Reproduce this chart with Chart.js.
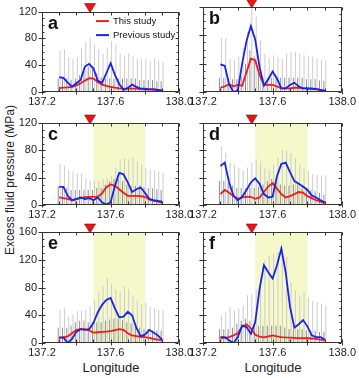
<!DOCTYPE html>
<html><head><meta charset="utf-8">
<script src="https://cdn.jsdelivr.net/npm/chart.js@4/dist/chart.umd.min.js"></script>
<style>
html,body{margin:0;padding:0;background:#fff;}
#wrap{position:relative;width:359px;height:378px;overflow:hidden;font-family:"Liberation Sans",Arial,sans-serif;}
canvas{position:absolute;}
.ytitle{position:absolute;left:10px;top:180px;transform:translate(-50%,-50%) rotate(-90deg);white-space:nowrap;font-size:12px;color:#222;}
.xtitle{position:absolute;top:367px;transform:translate(-50%,-50%);font-size:13px;color:#222;white-space:nowrap;}
</style></head><body>
<div id="wrap">
<div class="ytitle">Excess fluid pressure (MPa)</div>
<div class="xtitle" style="left:111px">Longitude</div>
<div class="xtitle" style="left:273px">Longitude</div>
</div>
<script>
// ---- data ----
const lon = [137.300,137.325,137.350,137.375,137.400,137.425,137.450,137.475,137.500,137.525,137.550,137.575,137.600,137.625,137.650,137.675,137.700,137.725,137.750,137.775,137.800,137.825,137.850,137.875,137.900];
const xTicks = [137.2, 137.6, 138.0];
const yTicks120 = [0, 40, 80, 120];
const yTicks160 = [0, 40, 80, 120, 160];
const seriesNames = ['This study', 'Previous study'];
const volcanoLon = 137.48;
const shadeRange = [137.5, 137.8];

const a_this = [6,6.5,7,7.7,10,13,17,20.7,20,15,11,9,7.7,6.5,5.5,5,5,5,5,4.5,4,4,4,3,2.5];
const a_prev = [22,21,14,8,13,18,38,42,35,17,13.5,28,43,25.5,12,3,6,11,7.7,5,5,4,4,3,1.5];
const a_hi   = [62,64,52,50,52,66,75,81,71,64,57,66,76,71,57,54,57,54,50,50,50,47,50,47,45];
const a_lo   = [20,20,20,18,20,25,33,38,35,28,22,20,20,20,20,20,20,20,20,18,18,18,18,16,16];

const b_this = [6,8,11,8,10,9,28,47,45,24,10,10,10,8,5,5,5,6,6,5,5,4,4,3,1.5];
const b_prev = [39,37,11,0,2,40,72,93,74,35,9,18,29,19,5,5,10,13,8,5,5,5,4,3,1.5];
const b_hi   = [76,76,47,45,50,62,85,120,107,73,54,49,52,49,47,54,57,57,54,52,50,50,47,45,45];
const b_lo   = [20,20,20,18,18,22,40,59,50,30,20,20,20,20,20,20,20,20,20,20,18,18,18,16,16];

const c_this = [11,10,9,7,8.5,10,11.5,12,12,12,17,26,30,28,23,18,13.5,13.5,13.5,13,12,8,6,5,3.5];
const c_prev = [26.6,26.6,13.5,7,8.7,11,8.7,10,7,11,4,0.5,4,28,47,45,33,19,23,25.6,18,9,7,6,5];
const c_hi   = [60,57,51,49,46,46,39,36,35,35,38,39,42,55,67,68,67,70,64,59,55,52,51,49,47];
const c_lo   = [27,27,25,22,22,22,22,22,22,25,25,30,35,38,38,35,30,28,28,28,26,25,24,23,22];

const d_this = [16,22,18,13,9,11,12,12,9,11,19,27,32,24,16,11,13,16,19,18,13,10,7,5,2.5];
const d_prev = [57,62,33,13.5,7,12,22,33,39,31,16,11,12,42,60,62,48,35,31,27,22,14,11,7,4];
const d_hi   = [86,76,62,59,55,50,55,62,67,64,55,52,59,69,81,79,76,69,59,55,50,45,45,43,43];
const d_lo   = [35,35,32,28,25,25,25,25,25,27,30,35,38,35,30,28,28,30,30,28,25,22,20,18,15];

const e_this = [7,8,9.6,14,19,20,20,18,15,15.5,16,16.5,17,18.5,20,19,14,11,10,9,8.6,7.5,6,5,4];
const e_prev = [8,8,0,6,16,20,19,20,29,44,55,62,65,50,37,38,45,40,22,10,12,19,15,11,5];
const e_hi   = [48,50,38,41,46,46,48,53,62,74,82,94,86,77,74,82,78,67,62,55,58,53,50,48,48];
const e_lo   = [22,22,22,25,30,32,32,30,30,30,30,32,34,35,35,33,30,28,25,22,20,20,18,18,18];

const f_this = [7,7.5,8.5,11,14,24,27,21,12,9,8,9.5,11,9.5,8.6,8,7.7,7.5,7,7,7,6.5,6,5,4];
const f_prev = [8.6,8.6,4,0,8.6,25,23,13.4,30,78,112,102,93,112,136,102,52,22,27,33,24,11,8.6,8.6,5];
const f_hi   = [40,45,52,47,50,54,69,71,76,95,119,126,129,131,138,124,88,76,69,73,66,61,59,57,54];
const f_lo   = [20,20,20,22,28,32,35,32,28,25,25,25,25,25,25,22,20,20,20,20,18,18,18,16,16];

// ---- layout ----
const cols = [{left:0,width:196,yw:42,labels:true},{left:180,width:179,yw:23,labels:false}];
const rows = [
  {top:0,  h:107, pad:7,  max:120, ticks:yTicks120, shade:false},
  {top:108,h:112, pad:15, max:120, ticks:yTicks120, shade:true},
  {top:220,h:138, pad:12, max:160, ticks:yTicks160, shade:true}
];
const panels = [
  {letter:'a', r:0, c:0, thisS:a_this, prevS:a_prev, hi:a_hi, lo:a_lo, legend:true},
  {letter:'b', r:0, c:1, thisS:b_this, prevS:b_prev, hi:b_hi, lo:b_lo},
  {letter:'c', r:1, c:0, thisS:c_this, prevS:c_prev, hi:c_hi, lo:c_lo},
  {letter:'d', r:1, c:1, thisS:d_this, prevS:d_prev, hi:d_hi, lo:d_lo},
  {letter:'e', r:2, c:0, thisS:e_this, prevS:e_prev, hi:e_hi, lo:e_lo},
  {letter:'f', r:2, c:1, thisS:f_this, prevS:f_prev, hi:f_hi, lo:f_lo}
];
const RED = '#f21a1a', BLUE = '#1a22ee';
const FONT = '"Liberation Sans", Arial, sans-serif';

const deco = {
  id: 'deco',
  beforeDatasetsDraw(chart, args, o) {
    if (!o.shade) return;
    const {ctx, chartArea: a, scales: {x}} = chart;
    const x1 = x.getPixelForValue(shadeRange[0]), x2 = x.getPixelForValue(shadeRange[1]);
    ctx.save();
    ctx.fillStyle = '#f5f8c9';
    ctx.fillRect(x1, a.top, x2 - x1, a.bottom - a.top);
    ctx.restore();
  },
  afterDatasetsDraw(chart, args, o) {
    const {ctx, chartArea: a, scales: {x, y}} = chart;
    ctx.save();
    ctx.strokeStyle = '#333';
    ctx.lineWidth = 1;
    const L = Math.round(a.left) + 0.5, R = Math.round(a.right) - 0.5;
    const T = Math.round(a.top) + 0.5, B = Math.round(a.bottom) - 0.5;
    ctx.strokeRect(L, T, R - L, B - T);
    ctx.beginPath();
    for (let k = 0; k <= 8; k++) {
      const px = Math.round(x.getPixelForValue(137.2 + k * 0.1)) + 0.5;
      ctx.moveTo(px, B); ctx.lineTo(px, B - 3);
      ctx.moveTo(px, T); ctx.lineTo(px, T + 3);
      if (k % 2 === 0) { ctx.moveTo(px, B); ctx.lineTo(px, B + 3); }
    }
    for (let v = 0; v <= o.max; v += 10) {
      const py = Math.round(y.getPixelForValue(v)) + 0.5;
      const major = v % 40 === 0;
      ctx.moveTo(L, py); ctx.lineTo(L + (major ? 3 : 2), py);
      ctx.moveTo(R, py); ctx.lineTo(R - (major ? 3 : 2), py);
      if (major) { ctx.moveTo(L, py); ctx.lineTo(L - 4, py); }
    }
    ctx.stroke();
    ctx.restore();
  },
  afterDraw(chart, args, o) {
    const {ctx, chartArea: a, scales: {x}} = chart;
    ctx.save();
    const vx = x.getPixelForValue(volcanoLon);
    ctx.beginPath();
    ctx.moveTo(vx - 5.5, a.top - 8);
    ctx.lineTo(vx + 5.5, a.top - 8);
    ctx.lineTo(vx, a.top + 1);
    ctx.closePath();
    ctx.fillStyle = '#e8141a';
    ctx.fill();
    ctx.strokeStyle = '#7a0a0a';
    ctx.lineWidth = 0.6;
    ctx.stroke();
    ctx.fillStyle = '#111';
    ctx.font = 'bold 18px ' + FONT;
    ctx.textBaseline = 'alphabetic';
    ctx.textAlign = 'left';
    ctx.fillText(o.letter, a.left + 6, a.top + 17);
    if (o.legend) {
      ctx.font = '9.5px ' + FONT;
      ctx.textBaseline = 'middle';
      const items = [[seriesNames[0], RED, a.top + 9.5], [seriesNames[1], BLUE, a.top + 23.5]];
      for (const [t, c, yy] of items) {
        ctx.strokeStyle = c; ctx.lineWidth = 2;
        ctx.beginPath(); ctx.moveTo(96, yy); ctx.lineTo(109, yy); ctx.stroke();
        ctx.fillStyle = '#111';
        ctx.fillText(t, 113, yy);
      }
    }
    ctx.restore();
  }
};

const pts = arr => lon.map((v, i) => ({x: v, y: arr[i]}));

for (const p of panels) {
  const col = cols[p.c], row = rows[p.r];
  const cv = document.createElement('canvas');
  cv.width = col.width; cv.height = row.h;
  cv.style.left = col.left + 'px'; cv.style.top = row.top + 'px';
  cv.style.width = col.width + 'px'; cv.style.height = row.h + 'px';
  document.getElementById('wrap').appendChild(cv);
  const barOpts = {type: 'bar', categoryPercentage: 0.9, barPercentage: 0.5};
  new Chart(cv.getContext('2d'), {
    type: 'line',
    data: {
      datasets: [
        Object.assign({label: 'range', data: pts(p.hi), backgroundColor: '#cbcbcb', order: 3}, barOpts),
        Object.assign({label: 'range2', data: pts(p.lo), backgroundColor: '#8e8e8e', order: 2}, barOpts),
        {type: 'line', label: seriesNames[0], data: pts(p.thisS), borderColor: RED, borderWidth: 1.8, pointRadius: 0, tension: 0, order: 1},
        {type: 'line', label: seriesNames[1], data: pts(p.prevS), borderColor: BLUE, borderWidth: 1.8, pointRadius: 0, tension: 0, order: 0}
      ]
    },
    options: {
      responsive: false,
      animation: false,
      devicePixelRatio: 1,
      layout: {padding: {top: row.pad, right: 16, bottom: 0, left: 0}},
      plugins: {
        legend: {display: false},
        tooltip: {enabled: false},
        deco: {shade: row.shade, max: row.max, letter: p.letter, legend: !!p.legend}
      },
      scales: {
        x: {
          type: 'linear', min: 137.2, max: 138.0, offset: false,
          grid: {display: false, drawTicks: false},
          border: {display: false},
          afterBuildTicks: s => { s.ticks = xTicks.map(v => ({value: v})); },
          afterFit: s => { s.height = 15; },
          ticks: {padding: 3, color: '#222', font: {size: 11, family: FONT}, maxRotation: 0, autoSkip: false,
                  callback: v => v.toFixed(1)}
        },
        y: {
          type: 'linear', min: 0, max: row.max,
          grid: {display: false, drawTicks: false},
          border: {display: false},
          afterBuildTicks: s => { s.ticks = row.ticks.map(v => ({value: v})); },
          afterFit: s => { s.width = col.yw; },
          ticks: {display: col.labels, padding: 5, color: '#222', font: {size: 11, family: FONT}}
        }
      }
    },
    plugins: [deco]
  });
}
</script>
</body></html>
